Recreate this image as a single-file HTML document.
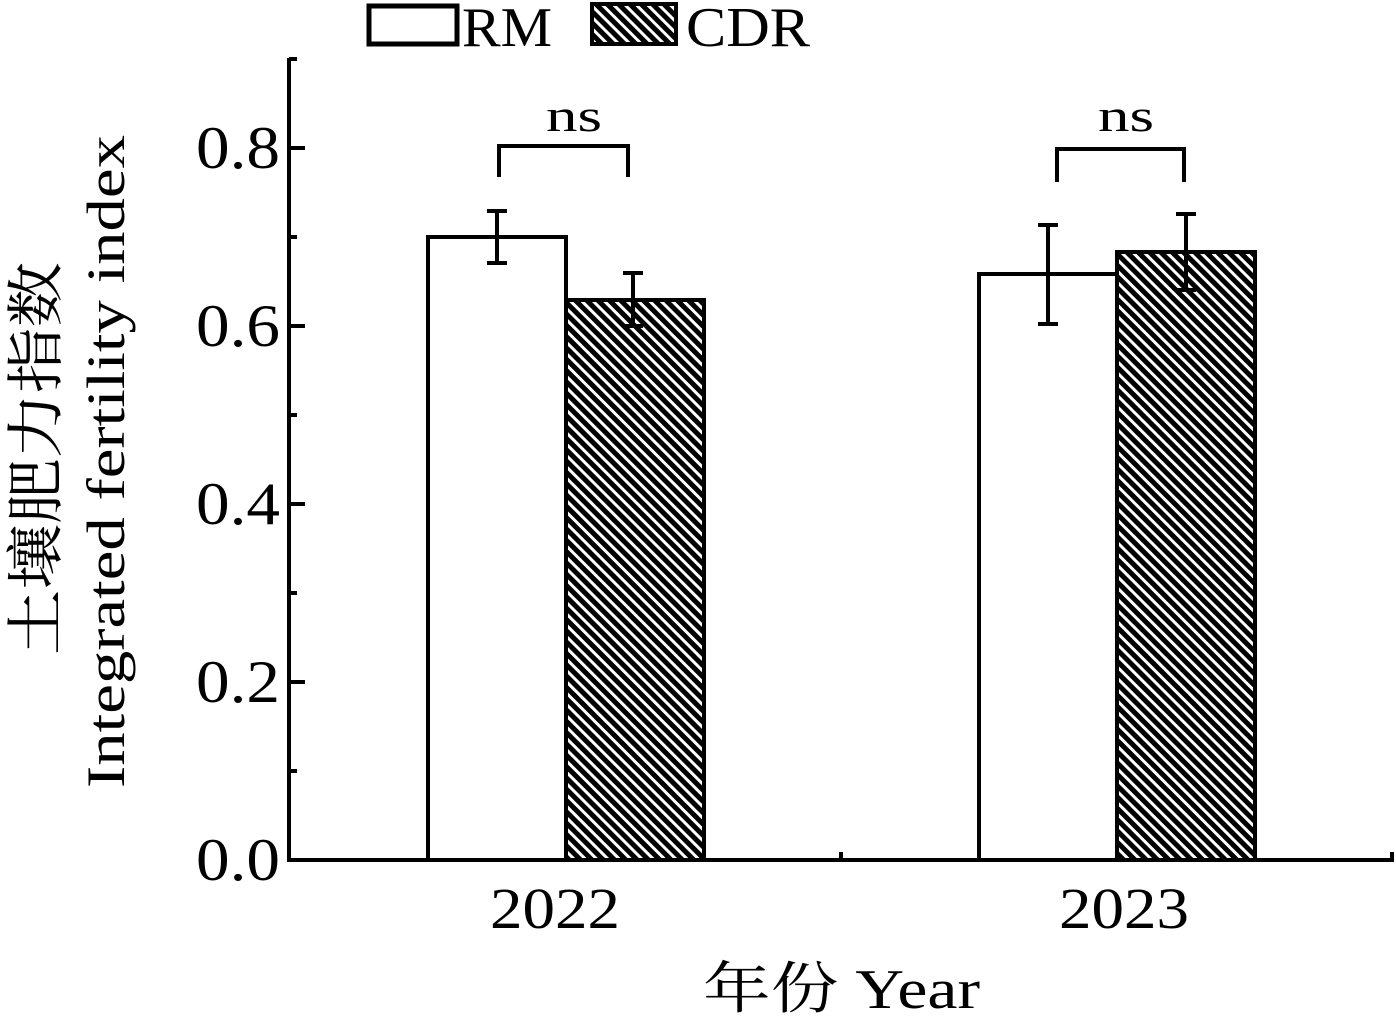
<!DOCTYPE html>
<html><head><meta charset="utf-8"><style>
body{margin:0;background:#fff}
svg{display:block}
text{font-family:"Liberation Serif","Noto Serif CJK SC",serif;fill:#000}
</style></head><body>
<svg width="1396" height="1018" viewBox="0 0 1396 1018">
<defs>
<pattern id="h" patternUnits="userSpaceOnUse" width="8" height="8" patternTransform="rotate(-45)">
<rect width="8" height="8" fill="#fff"/><rect width="5" height="8" fill="#000"/>
</pattern>
</defs>
<rect x="428" y="237" width="138" height="623" fill="#fff" stroke="#000" stroke-width="4"/>
<rect x="566" y="300" width="138" height="560" fill="url(#h)" stroke="#000" stroke-width="4"/>
<rect x="979" y="274" width="138" height="586" fill="#fff" stroke="#000" stroke-width="4"/>
<rect x="1117" y="252" width="138" height="608" fill="url(#h)" stroke="#000" stroke-width="4"/>
<g stroke="#000" stroke-width="4">
<line x1="497" y1="211" x2="497" y2="263"/><line x1="487" y1="211" x2="507" y2="211"/><line x1="487" y1="263" x2="507" y2="263"/>
<line x1="633" y1="273" x2="633" y2="326"/><line x1="623" y1="273" x2="643" y2="273"/><line x1="623" y1="326" x2="643" y2="326"/>
<line x1="1048" y1="225" x2="1048" y2="324"/><line x1="1038" y1="225" x2="1058" y2="225"/><line x1="1038" y1="324" x2="1058" y2="324"/>
<line x1="1186" y1="214" x2="1186" y2="290"/><line x1="1176" y1="214" x2="1196" y2="214"/><line x1="1176" y1="290" x2="1196" y2="290"/>
<polyline points="499,177 499,146 628,146 628,177" fill="none"/>
<polyline points="1057,182 1057,149 1184,149 1184,182" fill="none"/>
<line x1="289" y1="58" x2="289" y2="862"/>
<line x1="287" y1="860" x2="1394" y2="860"/>
<line x1="289" y1="148" x2="305" y2="148"/><line x1="289" y1="326" x2="305" y2="326"/>
<line x1="289" y1="504" x2="305" y2="504"/><line x1="289" y1="682" x2="305" y2="682"/>
<line x1="289" y1="59" x2="297" y2="59"/>
<line x1="289" y1="237" x2="297" y2="237"/><line x1="289" y1="415" x2="297" y2="415"/>
<line x1="289" y1="593" x2="297" y2="593"/><line x1="289" y1="771" x2="297" y2="771"/>
<line x1="841" y1="860" x2="841" y2="852"/><line x1="1392" y1="860" x2="1392" y2="852"/>
<rect x="369" y="6" width="88" height="38" fill="#fff" stroke-width="5"/>
</g>
<rect x="592" y="4" width="84" height="40" fill="url(#h)" stroke="#000" stroke-width="4"/>
<text x="462" y="46" font-size="56" textLength="90" lengthAdjust="spacingAndGlyphs">RM</text>
<text x="686" y="46" font-size="56" textLength="124" lengthAdjust="spacingAndGlyphs">CDR</text>
<text x="546" y="131" font-size="46" textLength="56" lengthAdjust="spacingAndGlyphs">ns</text>
<text x="1098" y="131" font-size="46" textLength="56" lengthAdjust="spacingAndGlyphs">ns</text>
<g font-size="60">
<text x="196" y="168" textLength="84" lengthAdjust="spacingAndGlyphs">0.8</text>
<text x="196" y="346" textLength="84" lengthAdjust="spacingAndGlyphs">0.6</text>
<text x="196" y="524" textLength="84" lengthAdjust="spacingAndGlyphs">0.4</text>
<text x="196" y="702" textLength="84" lengthAdjust="spacingAndGlyphs">0.2</text>
<text x="196" y="880" textLength="84" lengthAdjust="spacingAndGlyphs">0.0</text>
</g>
<text x="490" y="928" font-size="58" textLength="130" lengthAdjust="spacingAndGlyphs">2022</text>
<text x="1059" y="928" font-size="58" textLength="130" lengthAdjust="spacingAndGlyphs">2023</text>
<text x="703" y="1008" font-size="56" textLength="277" lengthAdjust="spacingAndGlyphs">年份 Year</text>
<text transform="translate(56,655) rotate(-90)" font-size="58" textLength="393" lengthAdjust="spacingAndGlyphs">土壤肥力指数</text>
<text transform="translate(124,788) rotate(-90)" font-size="54" textLength="653" lengthAdjust="spacingAndGlyphs">Integrated fertility index</text>
</svg>
</body></html>
